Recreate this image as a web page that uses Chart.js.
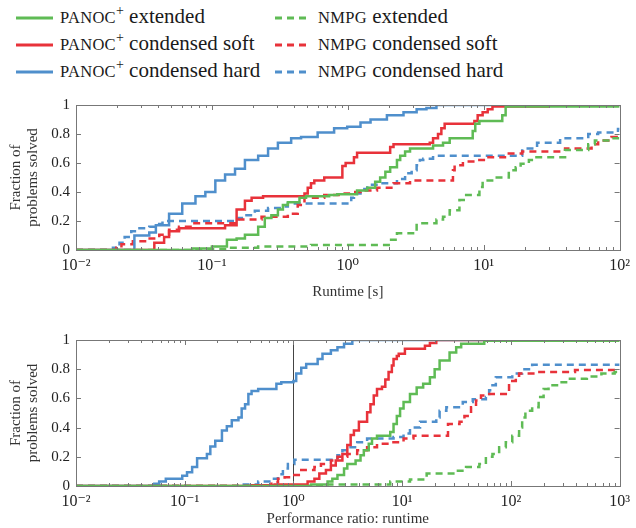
<!DOCTYPE html>
<html>
<head>
<meta charset="utf-8">
<script src="https://cdn.jsdelivr.net/npm/chart.js@4.4.1/dist/chart.umd.min.js"></script>
<style>
  body { margin: 0; background: #fff; width: 636px; height: 528px; position: relative; overflow: hidden; }
  canvas { position: absolute; left: 0; }
  .lg { position: absolute; font-family: "Liberation Serif", "DejaVu Serif", serif; font-size: 21px; color: #1a1a1a; white-space: nowrap; }
  .lg svg { position: absolute; }
  .sc { font-size: 16.5px; letter-spacing: 0.3px; }
  sup { font-size: 14px; vertical-align: 8px; line-height: 0; }
</style>
</head>
<body>
<div id="legend"></div>
<canvas id="runtimeChart" width="636" height="220" style="top:90px"></canvas>
<canvas id="ratioChart" width="636" height="203" style="top:325px"></canvas>
<script>
// --- data (x, fraction solved) ---

// runtime [s]
const rtPanocExtX  = [0.0716, 0.100, 0.129, 0.152, 0.175, 0.219, 0.245, 0.274, 0.306, 0.333, 0.362, 0.441, 0.493, 0.729, 0.837, 1.17, 1.39, 1.59, 1.73, 1.89, 2.05, 2.30, 2.43, 2.64, 2.87, 4.24, 5.02, 5.62, 8.30, 8.67, 9.3, 13.7, 14.5];
const rtPanocExtY  = [0.01, 0.025, 0.07, 0.08, 0.105, 0.16, 0.22, 0.24, 0.28, 0.31, 0.33, 0.36, 0.37, 0.38, 0.385, 0.41, 0.43, 0.47, 0.50, 0.54, 0.57, 0.62, 0.65, 0.68, 0.70, 0.72, 0.74, 0.77, 0.82, 0.87, 0.89, 0.93, 0.99];
const rtPanocSoftX = [0.0377, 0.0445, 0.0484, 0.0573, 0.125, 0.152, 0.175, 0.196, 0.238, 0.480, 0.507, 0.536, 0.567, 0.671, 0.912, 0.964, 1.11, 1.17, 2.05, 2.17, 4.01, 4.24, 4.61, 4.88, 5.16, 8.54, 9.03, 9.82, 10.7, 11.6, 30];
const rtPanocSoftY = [0.05, 0.09, 0.13, 0.15, 0.17, 0.28, 0.34, 0.36, 0.37, 0.39, 0.43, 0.46, 0.48, 0.50, 0.58, 0.60, 0.64, 0.67, 0.71, 0.73, 0.74, 0.77, 0.80, 0.84, 0.87, 0.89, 0.93, 0.95, 0.97, 0.99, 1.0];
const rtPanocHardX = [0.0269, 0.0346, 0.0387, 0.0484, 0.0605, 0.0757, 0.0895, 0.106, 0.125, 0.148, 0.175, 0.219, 0.259, 0.306, 0.383, 0.453, 0.600, 0.793, 0.99, 1.24, 1.47, 1.94, 2.57, 3.21, 3.79, 4.49];
const rtPanocHardY = [0.10, 0.12, 0.17, 0.25, 0.32, 0.37, 0.40, 0.48, 0.52, 0.56, 0.62, 0.65, 0.70, 0.74, 0.77, 0.78, 0.81, 0.84, 0.85, 0.88, 0.90, 0.93, 0.95, 0.97, 0.98, 1.0];
const rtNmpgExtX   = [0.0716, 0.132, 0.219, 0.536, 2.0, 2.30, 3.21, 4.49, 5.02, 5.62, 6.63, 7.43, 9.3, 9.82, 11.9, 15.3, 17.2, 18.7, 21.5, 23.3, 39.7, 58.8, 65.8, 87.1, 97.3];
const rtNmpgExtY   = [0.005, 0.015, 0.025, 0.035, 0.07, 0.115, 0.185, 0.21, 0.23, 0.275, 0.345, 0.38, 0.435, 0.48, 0.50, 0.55, 0.57, 0.595, 0.62, 0.64, 0.69, 0.73, 0.755, 0.77, 0.78];
const rtNmpgSoftX  = [0.0198, 0.0216, 0.0262, 0.0337, 0.041, 0.0484, 0.0573, 0.0716, 0.157, 0.232, 0.362, 0.428, 0.480, 0.671, 0.887, 1.04, 1.24, 1.64, 2.17, 2.87, 5.94, 6.11, 7.03, 8.78, 10.4, 15.3, 19.2, 39.7, 62.2, 69.5, 87.1];
const rtNmpgSoftY  = [0.015, 0.04, 0.06, 0.08, 0.105, 0.14, 0.16, 0.185, 0.21, 0.23, 0.25, 0.31, 0.36, 0.38, 0.39, 0.40, 0.41, 0.43, 0.46, 0.48, 0.55, 0.585, 0.61, 0.62, 0.64, 0.665, 0.68, 0.70, 0.73, 0.755, 0.78];
const rtNmpgHardX  = [0.0187, 0.0209, 0.0228, 0.0255, 0.0293, 0.0346, 0.0398, 0.0433, 0.157, 0.175, 0.207, 0.259, 0.324, 0.362, 1.06, 1.11, 1.24, 1.39, 1.73, 2.30, 2.64, 2.95, 3.21, 3.39, 3.59, 4.24, 19.2, 24.7, 36.5, 58.8, 69.5, 97.3];
const rtNmpgHardY  = [0.015, 0.05, 0.09, 0.13, 0.15, 0.16, 0.18, 0.20, 0.22, 0.24, 0.27, 0.29, 0.30, 0.32, 0.36, 0.39, 0.42, 0.45, 0.46, 0.49, 0.53, 0.55, 0.585, 0.62, 0.63, 0.65, 0.70, 0.74, 0.77, 0.80, 0.81, 0.835];

// performance ratio
const prPanocExtX  = [1.45, 2.06, 2.28, 2.54, 2.92, 3.13, 3.73, 4.14, 4.44, 4.93, 5.28, 5.87, 7.77, 8.33, 8.93, 9.57, 10.3, 11.8, 13.6, 15.6, 18.0, 19.9, 22.1, 27.3, 31.4, 34.9, 56.9];
const prPanocExtY  = [0.01, 0.03, 0.05, 0.075, 0.12, 0.15, 0.175, 0.21, 0.245, 0.29, 0.325, 0.345, 0.37, 0.425, 0.48, 0.53, 0.575, 0.63, 0.675, 0.70, 0.745, 0.80, 0.86, 0.915, 0.95, 0.975, 0.995];
const prPanocSoftX = [0.412, 0.67, 1.35, 1.56, 1.73, 1.99, 2.21, 2.45, 2.82, 3.13, 3.36, 3.60, 4.0, 4.76, 5.11, 5.48, 5.87, 6.52, 7.0, 7.5, 8.04, 8.33, 8.93, 9.3, 10.6, 16.2, 18.0, 20.6];
const prPanocSoftY = [0.005, 0.01, 0.03, 0.05, 0.085, 0.11, 0.14, 0.175, 0.22, 0.28, 0.35, 0.38, 0.44, 0.505, 0.56, 0.62, 0.665, 0.68, 0.73, 0.78, 0.825, 0.87, 0.89, 0.905, 0.94, 0.96, 0.98, 1.0];
const prPanocHardX = [0.0525, 0.0582, 0.067, 0.0949, 0.105, 0.117, 0.130, 0.160, 0.172, 0.191, 0.220, 0.244, 0.271, 0.312, 0.334, 0.359, 0.385, 0.412, 0.474, 0.697, 0.773, 1.0, 1.06, 1.18, 1.31, 1.67, 1.85, 2.21, 2.54, 2.92, 3.48];
const prPanocHardY = [0.015, 0.03, 0.05, 0.07, 0.095, 0.13, 0.19, 0.22, 0.27, 0.31, 0.38, 0.41, 0.45, 0.47, 0.53, 0.56, 0.63, 0.65, 0.665, 0.70, 0.71, 0.72, 0.77, 0.81, 0.835, 0.87, 0.905, 0.93, 0.95, 0.975, 1.0];
const prNmpgExtX   = [1.92, 7.77, 11.8, 16.8, 31.4, 38.7, 51.3, 58.9, 67.7, 78.0, 89.8, 103, 119, 127, 136, 157, 180, 200, 222, 274, 338, 500, 680, 900];
const prNmpgExtY   = [0.01, 0.03, 0.045, 0.085, 0.105, 0.13, 0.15, 0.20, 0.22, 0.265, 0.30, 0.345, 0.40, 0.47, 0.515, 0.54, 0.61, 0.665, 0.69, 0.71, 0.735, 0.75, 0.77, 0.78];
const prNmpgSoftX  = [0.627, 0.721, 0.83, 0.952, 1.18, 1.56, 1.79, 2.21, 2.54, 3.13, 3.86, 4.76, 5.87, 7.77, 10.3, 12.7, 26.4, 33.7, 37.4, 43.0, 47.8, 53.1, 58.9, 89.8, 96.2, 103, 111, 119, 168, 389];
const prNmpgSoftY  = [0.025, 0.05, 0.06, 0.075, 0.11, 0.13, 0.15, 0.175, 0.20, 0.22, 0.245, 0.265, 0.29, 0.30, 0.325, 0.345, 0.425, 0.44, 0.48, 0.54, 0.585, 0.62, 0.63, 0.64, 0.69, 0.72, 0.755, 0.77, 0.78, 0.795];
const prNmpgHardX  = [0.323, 0.474, 0.627, 0.721, 0.80, 0.889, 1.02, 2.54, 2.82, 3.13, 3.86, 4.76, 8.33, 10.3, 11.8, 14.6, 20.6, 22.1, 25.5, 36.1, 44.6, 58.9, 63.1, 67.7, 72.7, 103, 127, 157];
const prNmpgHardY  = [0.01, 0.03, 0.05, 0.08, 0.12, 0.15, 0.18, 0.21, 0.245, 0.265, 0.30, 0.325, 0.335, 0.36, 0.40, 0.44, 0.47, 0.515, 0.54, 0.575, 0.595, 0.61, 0.655, 0.69, 0.745, 0.77, 0.80, 0.83];

// axes
const rtTicks = [0.01, 0.1, 1, 10, 100];
const rtTickLabels = ['10⁻²', '10⁻¹', '10⁰', '10¹', '10²'];
const prTicks = [0.01, 0.1, 1, 10, 100, 1000];
const prTickLabels = ['10⁻²', '10⁻¹', '10⁰', '10¹', '10²', '10³'];
const yTicks = [0, 0.2, 0.4, 0.6, 0.8, 1];
const yTickLabels = ['0', '0.2', '0.4', '0.6', '0.8', '1'];

const seriesNames = ['PANOC⁺ extended', 'PANOC⁺ condensed soft', 'PANOC⁺ condensed hard',
                     'NMPG extended', 'NMPG condensed soft', 'NMPG condensed hard'];

const GREEN = '#5fbb55';
const RED = '#e8323a';
const BLUE = '#4f8fcc';
const serif = '"Liberation Serif", "DejaVu Serif", serif';

// legend (html, so the small caps + superscript look right)
const legendItems = [
    { col: 0, row: 0, color: GREEN, dash: false, html: '<span class="sc">PANOC</span><sup>+</sup> extended' },
    { col: 0, row: 1, color: RED, dash: false, html: '<span class="sc">PANOC</span><sup>+</sup> condensed soft' },
    { col: 0, row: 2, color: BLUE, dash: false, html: '<span class="sc">PANOC</span><sup>+</sup> condensed hard' },
    { col: 1, row: 0, color: GREEN, dash: true, html: '<span class="sc">NMPG</span> extended' },
    { col: 1, row: 1, color: RED, dash: true, html: '<span class="sc">NMPG</span> condensed soft' },
    { col: 1, row: 2, color: BLUE, dash: true, html: '<span class="sc">NMPG</span> condensed hard' },
];
const legend = document.getElementById('legend');
legendItems.forEach(function (it) {
    const d = document.createElement('div');
    d.className = 'lg';
    const x0 = it.col === 0 ? 16 : 275;
    d.style.left = x0 + 'px';
    d.style.top = (4 + it.row * 27) + 'px';
    d.innerHTML = '<svg width="40" height="6" style="left:0;top:11px"><line x1="0" y1="3" x2="' + (it.col === 0 ? 37 : 35) + '" y2="3" stroke="' + it.color +
        '" stroke-width="3"' + (it.dash ? ' stroke-dasharray="7 5"' : '') + '/></svg>' +
        '<span style="margin-left:' + (it.col === 0 ? 44 : 43) + 'px">' + it.html + '</span>';
    legend.appendChild(d);
});

function steps(xs, ys, xmin, xmax) {
    const pts = [{ x: xmin, y: 0 }];
    xs.forEach(function (x, i) { pts.push({ x: x, y: ys[i] }); });
    pts.push({ x: xmax, y: ys[ys.length - 1] });
    return pts;
}

function makeDataset(label, color, dashed, xs, ys, xmin, xmax) {
    return {
        label: label,
        data: steps(xs, ys, xmin, xmax),
        borderColor: color,
        borderWidth: 2.5,
        borderDash: dashed ? [7, 5] : [],
        stepped: 'before',
        pointRadius: 0,
        fill: false,
    };
}

// frame + inside ticks like pgfplots
const framePlugin = {
    id: 'frame',
    beforeDatasetsDraw(chart, args, opts) {
        if (opts.vline === undefined) return;
        const ctx = chart.ctx, a = chart.chartArea;
        const x = Math.round(chart.scales.x.getPixelForValue(opts.vline)) + 0.5;
        ctx.save();
        ctx.strokeStyle = '#444';
        ctx.lineWidth = 1;
        ctx.beginPath();
        ctx.moveTo(x, a.top);
        ctx.lineTo(x, a.bottom);
        ctx.stroke();
        ctx.restore();
    },
    afterDraw(chart) {
        const ctx = chart.ctx, a = chart.chartArea;
        const xs = chart.scales.x, ys = chart.scales.y;
        ctx.save();
        ctx.strokeStyle = '#777';
        ctx.lineWidth = 1;
        ctx.beginPath();
        const decades = xs.ticks.map(t => t.value);
        decades.forEach(function (d, i) {
            const px = Math.round(xs.getPixelForValue(d)) + 0.5;
            ctx.moveTo(px, a.bottom); ctx.lineTo(px, a.bottom - 5);
            ctx.moveTo(px, a.top); ctx.lineTo(px, a.top + 5);
            if (i < decades.length - 1) {
                for (let k = 2; k < 10; k++) {
                    const mx = Math.round(xs.getPixelForValue(d * k)) + 0.5;
                    ctx.moveTo(mx, a.bottom); ctx.lineTo(mx, a.bottom - 3);
                    ctx.moveTo(mx, a.top); ctx.lineTo(mx, a.top + 3);
                }
            }
        });
        yTicks.forEach(function (v) {
            const py = Math.round(ys.getPixelForValue(v)) + 0.5;
            ctx.moveTo(a.left, py); ctx.lineTo(a.left + 5, py);
            ctx.moveTo(a.right, py); ctx.lineTo(a.right - 5, py);
        });
        ctx.stroke();
        ctx.strokeRect(Math.round(a.left) + 0.5, Math.round(a.top) + 0.5,
            Math.round(a.right - a.left), Math.round(a.bottom - a.top));
        ctx.restore();
    }
};

function makeChart(id, sets, xmin, xmax, xTicks, xLabels, xTitle, xAxisHeight, titlePad, vline) {
    const datasets = [
        makeDataset(seriesNames[0], GREEN, false, sets[0][0], sets[0][1], xmin, xmax),
        makeDataset(seriesNames[1], RED, false, sets[1][0], sets[1][1], xmin, xmax),
        makeDataset(seriesNames[2], BLUE, false, sets[2][0], sets[2][1], xmin, xmax),
        makeDataset(seriesNames[3], GREEN, true, sets[3][0], sets[3][1], xmin, xmax),
        makeDataset(seriesNames[4], RED, true, sets[4][0], sets[4][1], xmin, xmax),
        makeDataset(seriesNames[5], BLUE, true, sets[5][0], sets[5][1], xmin, xmax),
    ];
    return new Chart(document.getElementById(id).getContext('2d'), {
        type: 'line',
        data: { datasets: datasets },
        plugins: [framePlugin],
        options: {
            responsive: false,
            animation: false,
            devicePixelRatio: 1,
            layout: { padding: { top: 14, right: 11, left: 0, bottom: 0 } },
            plugins: {
                legend: { display: false },
                tooltip: { enabled: false },
                frame: { vline: vline },
            },
            scales: {
                x: {
                    type: 'logarithmic',
                    min: xmin,
                    max: xmax,
                    afterBuildTicks: function (s) { s.ticks = xTicks.map(v => ({ value: v })); },
                    afterFit: function (s) { s.height = xAxisHeight; },
                    grid: { display: false, drawTicks: false },
                    border: { display: false },
                    ticks: {
                        autoSkip: false,
                        maxRotation: 0,
                        padding: 6,
                        color: '#222',
                        font: { family: serif, size: 16 },
                        callback: function (v, i) { return xLabels[i]; }
                    },
                    title: {
                        display: true,
                        text: xTitle,
                        color: '#333',
                        font: { family: serif, size: 15 },
                        padding: { top: 0, bottom: titlePad }
                    }
                },
                y: {
                    min: 0,
                    max: 1,
                    afterBuildTicks: function (s) { s.ticks = yTicks.map(v => ({ value: v })); },
                    afterFit: function (s) { s.width = 76; },
                    grid: { display: false, drawTicks: false },
                    border: { display: false },
                    ticks: {
                        padding: 6,
                        color: '#222',
                        font: { family: serif, size: 15 },
                        callback: function (v, i) { return yTickLabels[i]; }
                    },
                    title: {
                        display: true,
                        text: ['Fraction of', 'problems solved'],
                        color: '#333',
                        font: { family: serif, size: 15, lineHeight: 1.15 },
                        padding: { top: 7, bottom: 0 }
                    }
                }
            }
        }
    });
}

makeChart('runtimeChart', [
    [rtPanocExtX, rtPanocExtY], [rtPanocSoftX, rtPanocSoftY], [rtPanocHardX, rtPanocHardY],
    [rtNmpgExtX, rtNmpgExtY], [rtNmpgSoftX, rtNmpgSoftY], [rtNmpgHardX, rtNmpgHardY]
], 0.01, 100, rtTicks, rtTickLabels, 'Runtime [s]', 60, 9, undefined);

makeChart('ratioChart', [
    [prPanocExtX, prPanocExtY], [prPanocSoftX, prPanocSoftY], [prPanocHardX, prPanocHardY],
    [prNmpgExtX, prNmpgExtY], [prNmpgSoftX, prNmpgSoftY], [prNmpgHardX, prNmpgHardY]
], 0.01, 1000, prTicks, prTickLabels, 'Performance ratio: runtime', 42, 0, 1);
</script>
</body>
</html>
